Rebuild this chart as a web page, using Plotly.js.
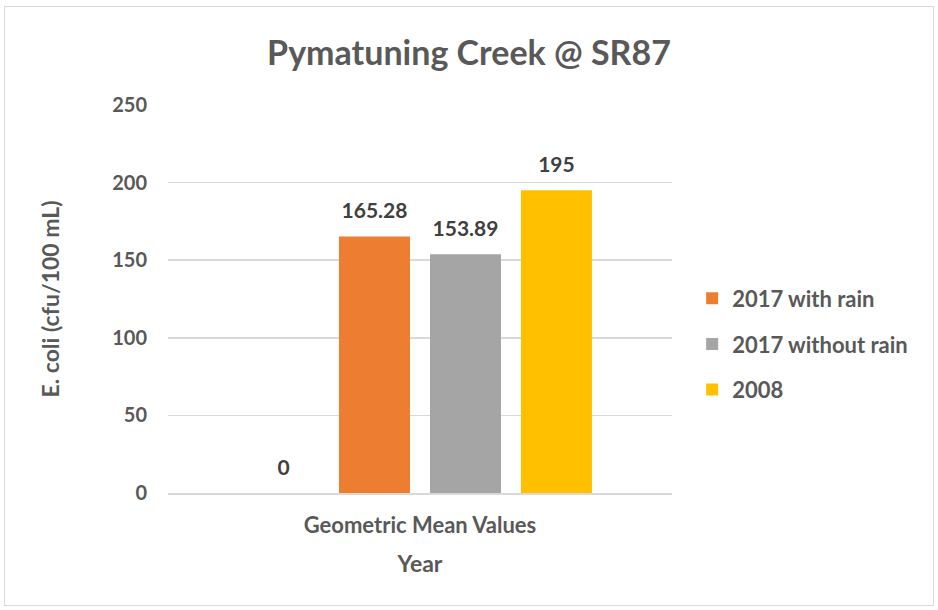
<!DOCTYPE html>
<html><head><meta charset="utf-8">
<script src="https://cdn.plot.ly/plotly-3.0.1.min.js"></script>
<style>
html,body{margin:0;padding:0;background:#fff;}
#wrap{position:relative;width:938px;height:610px;}
#chart{width:938px;height:610px;}
#frame{position:absolute;left:4px;top:6px;width:928px;height:598px;border:1px solid #d9d9d9;pointer-events:none;}
</style></head>
<body>
<div id="wrap"><div id="chart"></div><div id="frame"></div></div>
<script>
const categories = ["Geometric Mean Values"];
const seriesNames = ["", "2017 with rain", "2017 without rain", "2008"];
const seriesValues = [[0], [165.28], [153.89], [195]];
const seriesLabels = [["0"], ["165.28"], ["153.89"], ["195"]];
const seriesColors = ["#4472C4", "#ED7D31", "#A5A5A5", "#FFC000"];
const yTicks = [0, 50, 100, 150, 200, 250];

const FONT = "Lato, 'Open Sans', sans-serif";
const GAP = 0.278;

const barTraces = seriesNames.map((n, i) => ({
  type: "bar",
  x: categories,
  y: seriesValues[i],
  name: n,
  showlegend: i > 0,
  legendgroup: "g" + i,
  marker: {color: seriesColors[i]},
  hoverinfo: "none"
}));

const labelTraces = seriesNames.map((n, i) => ({
  type: "scatter",
  mode: "markers+text",
  orientation: "v",
  x: categories,
  y: seriesValues[i],
  name: n + " labels",
  showlegend: false,
  marker: {size: 19, color: "rgba(0,0,0,0)"},
  text: seriesLabels[i],
  textposition: "top center",
  cliponaxis: false,
  textfont: {family: FONT, size: 21, color: "#404040", weight: 700},
  hoverinfo: "none"
}));

const layout = {
  width: 938, height: 610,
  margin: {l: 168, r: 266, t: 105, b: 117},
  paper_bgcolor: "#fff", plot_bgcolor: "#fff",
  font: {family: FONT, color: "#595959"},
  title: {text: "Pymatuning Creek @ SR87", x: 0.5, xanchor: "center", y: 0.913, yanchor: "middle",
          font: {family: FONT, size: 34, color: "#595959", weight: 700}},
  barmode: "group",
  bargap: GAP,
  bargroupgap: 0.22,
  scattermode: "group",
  scattergap: GAP,
  xaxis: {
    type: "category",
    showgrid: false, showline: true, linecolor: "#d9d9d9", linewidth: 1.5,
    ticks: "", ticklabelstandoff: 12,
    tickfont: {family: FONT, size: 22, color: "#595959", weight: 700},
    title: {text: "Year", font: {family: FONT, size: 23, color: "#595959", weight: 700}, standoff: 19},
    zeroline: false
  },
  yaxis: {
    range: [0, 250], tickvals: yTicks, ticktext: yTicks.map(String),
    showgrid: true, gridcolor: "#d9d9d9", gridwidth: 1.5,
    zeroline: false, showline: false, ticks: "",
    ticklabelstandoff: 20,
    tickfont: {family: FONT, size: 20, color: "#595959", weight: 700},
    title: {text: "E. coli (cfu/100 mL)", font: {family: FONT, size: 23, color: "#595959", weight: 700}, standoff: 46}
  },
  legend: {
    x: 1.04, xanchor: "left", y: 0.384, yanchor: "middle",
    font: {family: FONT, size: 22, color: "#595959", weight: 700},
    tracegroupgap: 14,
    bgcolor: "rgba(0,0,0,0)"
  },
  showlegend: true
};

Plotly.newPlot("chart", barTraces.concat(labelTraces), layout, {staticPlot: true, displayModeBar: false});
</script>
</body></html>
